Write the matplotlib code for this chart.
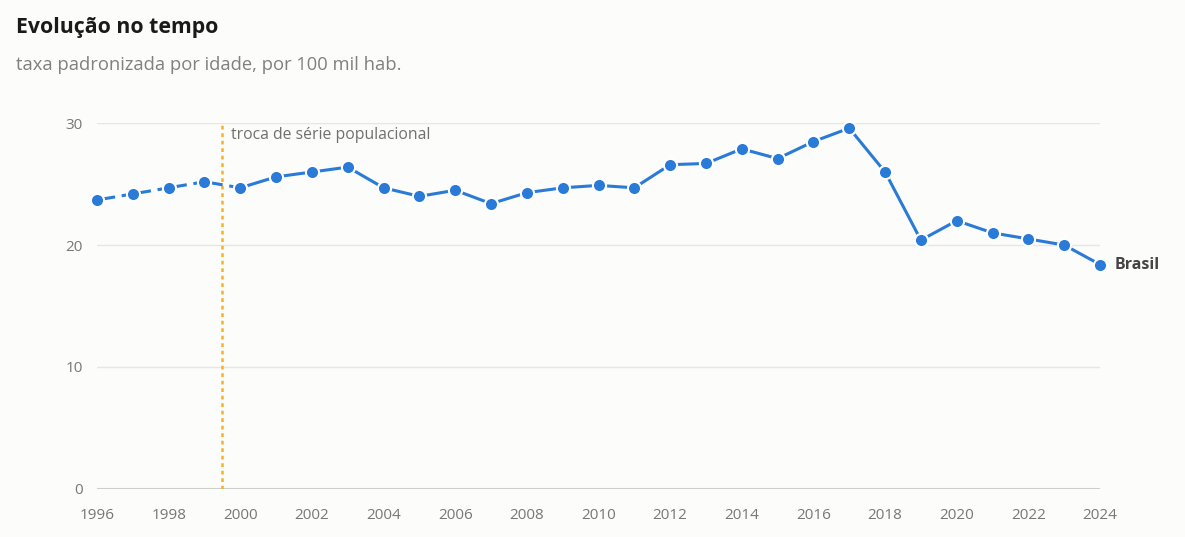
import numpy as np
import matplotlib
matplotlib.use('Agg')
import matplotlib.pyplot as plt

plt.rcParams['font.family'] = ['Open Sans', 'DejaVu Sans']

# dados
anos = list(range(1996, 2025))
taxa = [23.7, 24.2, 24.7, 25.2, 24.7, 25.6, 26.0, 26.4, 24.7, 24.0,
        24.5, 23.4, 24.3, 24.7, 24.9, 24.7, 26.6, 26.7, 27.9, 27.1,
        28.5, 29.6, 26.0, 20.4, 22.0, 21.0, 20.5, 20.0, 18.4]
ano_troca = 1999.5
yticks = [0, 10, 20, 30]
xticks = list(range(1996, 2025, 2))

cor = '#2a7ad8'
fundo = '#fcfcfb'

fig = plt.figure(figsize=(11.85, 5.37), dpi=100, facecolor=fundo)
ax = fig.add_axes([97 / 1185, 1 - 488.5 / 537, (1100 - 97) / 1185, (488.5 - 123.3) / 537])
ax.set_facecolor(fundo)

ax.set_xlim(1996, 2024)
ax.set_ylim(0, 30)

for y in yticks:
    ax.axhline(y, color='#cfcfca' if y == 0 else '#e6e6e3', lw=1.5 if y == 0 else 1.0, zorder=1)

ax.axvline(ano_troca, color='#f5b325', lw=1.8, ls=(0, (1.5, 1.5)), zorder=2)
ax.text(ano_troca + 0.25, 29.0, 'troca de série populacional', fontsize=11.3,
        color='#707070', va='center', ha='left')

# trecho antigo (traço-ponto) e trecho novo (sólido)
i0 = anos.index(2000)
ax.plot(anos[:i0 + 1], taxa[:i0 + 1], color=cor, lw=2.2, ls=(0, (6, 2.2, 1.5, 2.2)),
        zorder=3, clip_on=False)
ax.plot(anos[i0:], taxa[i0:], color=cor, lw=2.2, zorder=3, clip_on=False)
ax.scatter(anos, taxa, s=90, color=cor, edgecolor='white', linewidth=1.5,
           zorder=4, clip_on=False)

ax.text(anos[-1] + 0.42, taxa[-1], 'Brasil', fontsize=11.5, fontweight='bold',
        color='#444444', va='center', ha='left')

ax.set_xticks(xticks)
ax.set_xticklabels([str(x) for x in xticks], fontsize=11, color='#777777')
ax.set_yticks(yticks)
ax.set_yticklabels([str(y) for y in yticks], fontsize=11, color='#777777')
ax.tick_params(axis='both', length=0)
ax.tick_params(axis='x', pad=14)
ax.tick_params(axis='y', pad=10)
for s in ax.spines.values():
    s.set_visible(False)

fig.text(16 / 1185, 1 - 28 / 537, 'Evolução no tempo', fontsize=15.3, fontweight='bold',
         color='#1a1a1a', va='center', ha='left')
fig.text(16 / 1185, 1 - 65 / 537, 'taxa padronizada por idade, por 100 mil hab.',
         fontsize=13.2, color='#808080', va='center', ha='left')

fig.savefig('out.png', dpi=100, facecolor=fundo)
